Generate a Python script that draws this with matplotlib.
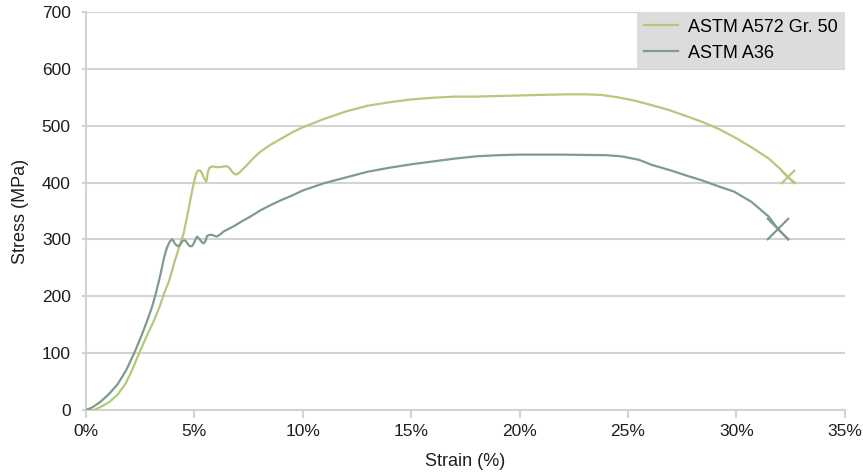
import matplotlib
matplotlib.use("Agg")
import matplotlib.pyplot as plt
from matplotlib.lines import Line2D

plt.rcParams['font.family'] = ['Liberation Sans', 'DejaVu Sans']

# A572 Gr. 50 data (strain %, stress MPa)
a572_strain = [0, 0.37, 0.8, 1.1, 1.45, 1.8, 2.1, 2.45, 2.8, 3.14, 3.4, 3.6, 3.84, 4.11, 4.3,
               4.5, 4.65, 4.81, 4.93, 5.04, 5.1, 5.16, 5.27, 5.35, 5.42, 5.5, 5.55, 5.58, 5.61,
               5.65, 5.7, 5.8, 5.89, 6.05, 6.2, 6.35, 6.43, 6.58, 6.74, 6.85, 6.93, 7.02, 7.12,
               7.25, 7.43, 7.7, 8.04, 8.5, 9.0, 9.5, 10.0, 11.0, 12.0, 13.0, 14.0, 15.0, 16.0,
               17.0, 18.0, 19.0, 20.0, 21.0, 22.2, 23.0, 23.76, 24.5, 25.3, 26.0, 26.85, 27.6,
               28.4, 29.2, 29.9, 30.7, 31.5, 32.0, 32.4, 32.7]
a572_stress = [0, 0, 8, 15, 27, 45, 68, 100, 130, 158, 182, 205, 228, 264, 287,
               310, 338, 369, 392, 410, 417, 421, 421, 416, 410, 404, 402, 408, 416,
               422, 426, 428, 428, 427, 427, 428, 429, 427, 419, 415, 414, 416, 419,
               424, 431, 442, 454, 466, 477, 488, 497, 512, 525, 535, 541, 546, 549,
               551, 551, 552, 553, 554, 555, 555, 554, 550, 544, 537, 528, 518,
               507, 494, 480, 462, 442, 425, 409, 400]
a572_break = 76  # index of fracture mark

# A36 data
a36_strain = [0, 0.3, 0.68, 1.05, 1.45, 1.85, 2.22, 2.55, 2.83, 3.05, 3.22, 3.37, 3.5, 3.6,
              3.72, 3.81, 3.88, 3.96, 4.04, 4.11, 4.2, 4.27, 4.35, 4.42, 4.5, 4.58, 4.66, 4.73,
              4.8, 4.88, 4.96, 5.04, 5.12, 5.2, 5.27, 5.35, 5.42, 5.5, 5.58, 5.7, 5.81, 5.95,
              6.04, 6.2, 6.35, 6.55, 6.81, 7.2, 7.58, 8.04, 8.5, 9.0, 9.5, 10.0, 11.0, 12.0,
              13.0, 14.0, 15.0, 16.0, 17.0, 18.0, 19.0, 20.0, 22.0, 24.0, 24.7, 25.5, 26.1,
              27.0, 27.8, 28.4, 29.2, 29.9, 30.7, 31.5, 31.93, 32.4]
a36_stress = [0, 5, 15, 28, 45, 70, 100, 130, 158, 182, 205, 228, 250, 268,
              284, 292, 297, 300, 297, 292, 289, 288, 291, 296, 298, 298, 294, 290,
              288, 288, 292, 299, 305, 302, 299, 295, 293, 296, 306, 308, 308, 306,
              305, 309, 314, 318, 323, 332, 340, 351, 360, 369, 377, 386, 399, 409,
              419, 426, 432, 437, 442, 446, 448, 449, 449, 448, 446, 440, 431,
              421, 411, 404, 393, 384, 366, 340, 318, 300]
a36_break = 76

series_labels = ['ASTM A572 Gr. 50', 'ASTM A36']
xticks = [0, 5, 10, 15, 20, 25, 30, 35]
xtick_labels = ['0%', '5%', '10%', '15%', '20%', '25%', '30%', '35%']
yticks = [0, 100, 200, 300, 400, 500, 600, 700]

c572 = '#b7c77c'
c36 = '#7f9b8e'
grid_c = '#d3d3d3'
txt_c = '#1e1e1e'

fig = plt.figure(figsize=(8.63, 4.73), dpi=100)
ax = fig.add_axes([0.0997, 0.133, 0.879, 0.842])

ax.plot(a572_strain, a572_stress, color=c572, lw=1.6, solid_joinstyle='round',
        marker='x', markevery=[a572_break], markersize=10, markeredgewidth=1.6, zorder=3)
ax.plot(a36_strain, a36_stress, color=c36, lw=1.6, solid_joinstyle='round',
        marker='x', markevery=[a36_break], markersize=16, markeredgewidth=1.6, zorder=3)

ax.set_xlim(0, 35)
ax.set_ylim(0, 700)
ax.set_xticks(xticks)
ax.set_xticklabels(xtick_labels)
ax.set_yticks(yticks)
ax.yaxis.grid(True, color=grid_c, lw=1.5)
ax.set_axisbelow(True)
for s in ['top', 'right']:
    ax.spines[s].set_visible(False)
ax.spines['left'].set_color(grid_c)
ax.spines['left'].set_linewidth(1.5)
ax.spines['bottom'].set_color(grid_c)
ax.spines['bottom'].set_linewidth(1.5)
ax.tick_params(axis='x', colors=grid_c, length=6, width=1.5, labelcolor=txt_c, labelsize=12.5, pad=4)
ax.tick_params(axis='y', colors=grid_c, length=3, width=1.5, labelcolor=txt_c, labelsize=12.5, pad=8)
ax.set_xlabel('Strain (%)', fontsize=13, color=txt_c, labelpad=10)
ax.set_ylabel('Stress (MPa)', fontsize=13, color=txt_c, labelpad=9)

handles = [Line2D([], [], color=c572, lw=1.6), Line2D([], [], color=c36, lw=1.6)]
leg = ax.legend(handles, series_labels, loc='upper right',
                bbox_to_anchor=(1.0, 1.0), frameon=True, fancybox=False,
                fontsize=13, handlelength=1.9, handletextpad=0.55,
                borderpad=0.38, labelspacing=0.5, borderaxespad=0)
leg.get_frame().set_facecolor('#dcdcdc')
leg.get_frame().set_edgecolor('#dcdcdc')
leg.get_frame().set_alpha(1)
leg.get_frame().set_linewidth(0)

fig.savefig('out.png', dpi=100)
